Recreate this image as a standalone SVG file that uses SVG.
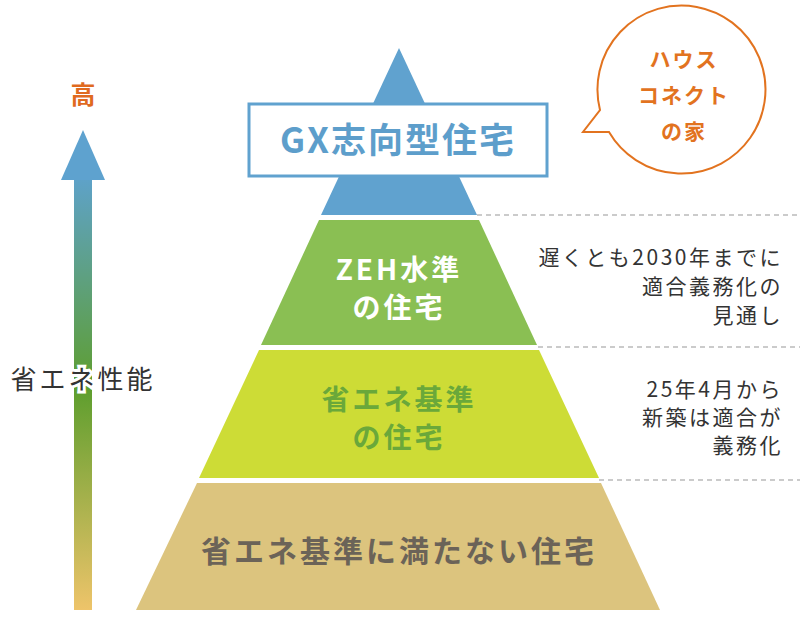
<svg xmlns="http://www.w3.org/2000/svg" width="800" height="618" viewBox="0 0 800 618">
<defs>
<linearGradient id="ag" x1="0" y1="0" x2="0" y2="1">
<stop offset="0" stop-color="#5ea2cf"/>
<stop offset="0.5" stop-color="#5e9e2e"/>
<stop offset="1" stop-color="#eec46a"/>
</linearGradient>
<style>
text{font-family:"Noto Sans CJK JP","Noto Sans",sans-serif;}
.dash{stroke:#bbb;stroke-width:1.5;stroke-dasharray:5,4;fill:none}
.side{font-size:21px;fill:#333;text-anchor:end;letter-spacing:2.5px}
.tier{font-size:30px;font-weight:bold;text-anchor:middle;letter-spacing:3px}
.sm{font-size:28px}
.gx{font-size:35px;letter-spacing:2px}
.bub{font-size:21px;font-weight:bold;fill:#e2731f;text-anchor:middle;letter-spacing:2px}
</style>
</defs>
<g id="connectors">
<line class="dash" x1="477" y1="215" x2="800" y2="215"/>
<line class="dash" x1="538" y1="347" x2="800" y2="347"/>
<line class="dash" x1="599" y1="480" x2="800" y2="480"/>
</g>
<g id="arrow">
<rect x="74" y="170" width="18" height="440" fill="url(#ag)"/>
<polygon points="83,130 105,180 61,180" fill="#5ea2cf"/>
<text x="83" y="104" font-size="25" font-weight="bold" fill="#e06a1f" text-anchor="middle">高</text>
<text x="83" y="389" font-size="26" fill="#333" text-anchor="middle" stroke="#fff" stroke-width="6" paint-order="stroke" letter-spacing="3">省エネ性能</text>
</g>
<g id="tier1">
<polygon points="399,48 477,215 321,215" fill="#60a2cf"/>
<rect x="249" y="104" width="298" height="72" fill="#fff" stroke="#60a2cf" stroke-width="3"/>
<text class="tier gx" x="398" y="153" fill="#5d9ecb">GX志向型住宅</text>
</g>
<g id="tier2">
<polygon points="319,220 479,220 537,345 261,345" fill="#8abf53"/>
<text class="tier sm" x="399" y="280" fill="#fff">ZEH水準</text>
<text class="tier sm" x="399" y="318" fill="#fff">の住宅</text>
</g>
<g id="tier3">
<polygon points="259,350 539,350 599,478 199,478" fill="#cddc36"/>
<text class="tier sm" x="399" y="410" fill="#6aa83a">省エネ基準</text>
<text class="tier sm" x="399" y="448" fill="#6aa83a">の住宅</text>
</g>
<g id="tier4">
<polygon points="197,483 601,483 660,610 136,610" fill="#dcc47e"/>
<text class="tier" x="399" y="562" fill="#6b6358">省エネ基準に満たない住宅</text>
</g>
<g id="notes">
<text class="side" x="783" y="265">遅くとも2030年までに</text>
<text class="side" x="783" y="294">適合義務化の</text>
<text class="side" x="783" y="323">見通し</text>
<text class="side" x="783" y="397">25年4月から</text>
<text class="side" x="783" y="425">新築は適合が</text>
<text class="side" x="783" y="453">義務化</text>
</g>
<g id="bubble">
<path d="M600,110 A84,84 0 1 1 609,132 L583,132 Z" fill="#fff" stroke="#e2731f" stroke-width="2" stroke-linejoin="miter"/>
<text class="bub" x="684" y="67">ハウス</text>
<text class="bub" x="684" y="103">コネクト</text>
<text class="bub" x="684" y="139">の家</text>
</g>
</svg>
